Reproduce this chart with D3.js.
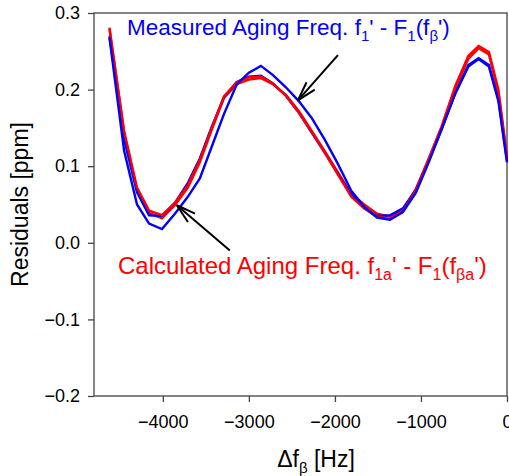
<!DOCTYPE html>
<html>
<head>
<meta charset="utf-8">
<script src="https://cdn.jsdelivr.net/npm/d3@7"></script>
<style>
  body { margin: 0; background: #fff; }
  text { font-family: "Liberation Sans", Arial, sans-serif; }
</style>
</head>
<body>
<div id="vis"></div>
<script>
// Δfβ [Hz] positions, shared by all four curves
const freq = [-4620, -4450, -4300, -4160, -4010, -3860, -3710, -3570, -3430, -3290,
  -3140, -3000, -2860, -2720, -2570, -2420, -2270, -2120, -1970, -1810,
  -1660, -1510, -1360, -1210, -1060, -910, -760, -600, -450, -330, -210, -100, 0];

// calculated aging residuals (red)
const calcA = [0.281, 0.143, 0.069, 0.039, 0.032, 0.049, 0.072, 0.105, 0.148, 0.189,
  0.207, 0.213, 0.215, 0.207, 0.193, 0.172, 0.146, 0.120, 0.093, 0.064,
  0.050, 0.038, 0.034, 0.043, 0.070, 0.110, 0.152, 0.205, 0.244, 0.257, 0.249, 0.200, 0.113];
const calcB = [0.279, 0.146, 0.072, 0.042, 0.036, 0.052, 0.075, 0.108, 0.150, 0.191,
  0.210, 0.216, 0.217, 0.208, 0.192, 0.170, 0.145, 0.118, 0.090, 0.060,
  0.045, 0.034, 0.031, 0.041, 0.068, 0.108, 0.150, 0.202, 0.240, 0.254, 0.246, 0.196, 0.110];

// measured aging residuals (blue)
const measA = [0.270, 0.135, 0.066, 0.036, 0.035, 0.052, 0.078, 0.110, 0.152, 0.190,
  0.210, 0.217, 0.218, 0.208, 0.192, 0.170, 0.144, 0.118, 0.091, 0.063,
  0.045, 0.035, 0.036, 0.045, 0.069, 0.107, 0.148, 0.196, 0.232, 0.241, 0.232, 0.188, 0.107];
const measB = [0.268, 0.120, 0.050, 0.025, 0.018, 0.038, 0.060, 0.084, 0.126, 0.168,
  0.207, 0.222, 0.231, 0.219, 0.203, 0.185, 0.163, 0.135, 0.104, 0.068,
  0.047, 0.033, 0.030, 0.040, 0.065, 0.105, 0.148, 0.195, 0.230, 0.240, 0.230, 0.185, 0.105];

const xTicks = [-4000, -3000, -2000, -1000, 0];
const yTicks = [0.3, 0.2, 0.1, 0.0, -0.1, -0.2];

const svg = d3.select("#vis").append("svg")
  .attr("width", 509)
  .attr("height", 476);

const margin = { top: 13, right: 2, bottom: 80, left: 94 };
const width = 509 - margin.left - margin.right;
const height = 476 - margin.top - margin.bottom;

const g = svg.append("g")
  .attr("transform", `translate(${margin.left},${margin.top})`);

const x = d3.scaleLinear().domain([-4800, 0]).range([0, width]);
const y = d3.scaleLinear().domain([-0.2, 0.3]).range([height, 0]);

const axisColor = "#444";

// frame
g.append("rect")
  .attr("width", width)
  .attr("height", height)
  .attr("fill", "none")
  .attr("stroke", axisColor)
  .attr("stroke-width", 1.3);

// axes
const xAxis = g.append("g")
  .attr("transform", `translate(0,${height})`)
  .call(d3.axisBottom(x).tickValues(xTicks).tickSize(6).tickPadding(13).tickFormat(d3.format("d")));
const yAxis = g.append("g")
  .call(d3.axisLeft(y).tickValues(yTicks).tickSize(6).tickPadding(8).tickFormat(d3.format(".1f")));

[xAxis, yAxis].forEach(a => {
  a.select(".domain").remove();
  a.selectAll("line").attr("stroke", axisColor).attr("stroke-width", 1.3);
  a.selectAll("text")
    .attr("font-size", "18px")
    .attr("fill", "#000")
    .style("font-family", "'Liberation Sans', Arial, sans-serif");
});

// curves
const line = d3.line()
  .x((d, i) => x(freq[i]))
  .y(d => y(d));

const series = [
  { values: calcA, color: "#ff0000" },
  { values: measA, color: "#0000ff" },
  { values: calcB, color: "#ff0000" },
  { values: measB, color: "#0000ff" }
];

g.selectAll(".curve")
  .data(series)
  .join("path")
  .attr("class", "curve")
  .attr("d", d => line(d.values))
  .attr("fill", "none")
  .attr("stroke", d => d.color)
  .attr("stroke-width", 2.4)
  .attr("stroke-linejoin", "miter");

// arrows (in data coordinates)
const arrows = [
  { from: [-1965, 0.245], to: [-2430, 0.186] },
  { from: [-3221, -0.010], to: [-3837, 0.049] }
];

arrows.forEach(a => {
  const x1 = x(a.from[0]), y1 = y(a.from[1]);
  const x2 = x(a.to[0]), y2 = y(a.to[1]);
  g.append("line")
    .attr("x1", x1).attr("y1", y1)
    .attr("x2", x2).attr("y2", y2)
    .attr("stroke", "#000")
    .attr("stroke-width", 2);
  const ang = Math.atan2(y1 - y2, x1 - x2);
  const len = 20, spread = 16 * Math.PI / 180;
  [ang - spread, ang + spread].forEach(t => {
    g.append("line")
      .attr("x1", x2).attr("y1", y2)
      .attr("x2", x2 + len * Math.cos(t))
      .attr("y2", y2 + len * Math.sin(t))
      .attr("stroke", "#000")
      .attr("stroke-width", 2);
  });
});

// annotation labels with subscripts
function label(parts, px, py, color, size, subSize) {
  const t = svg.append("text")
    .attr("x", px)
    .attr("y", py)
    .attr("fill", color)
    .attr("font-size", size + "px");
  let shifted = false;
  parts.forEach(p => {
    const sub = p.startsWith("_");
    const s = t.append("tspan").text(sub ? p.slice(1) : p);
    if (sub && !shifted) { s.attr("dy", 6).attr("font-size", subSize + "px"); shifted = true; }
    else if (!sub && shifted) { s.attr("dy", -6); shifted = false; }
    else if (sub) s.attr("font-size", subSize + "px");
  });
}

label(["Measured Aging Freq. f", "_1", "' - F", "_1", "(f", "_β", "')"], 127, 35, "#0000ff", 22.5, 15);
label(["Calculated Aging Freq. f", "_1a", "' - F", "_1", "(f", "_βa", "')"], 118, 274, "#ff0000", 24, 16);

// axis titles
svg.append("text")
  .attr("transform", `translate(28,${margin.top + height / 2}) rotate(-90)`)
  .attr("text-anchor", "middle")
  .attr("font-size", "23px")
  .text("Residuals [ppm]");

const xt = svg.append("text")
  .attr("x", 316)
  .attr("y", 467)
  .attr("text-anchor", "middle")
  .attr("font-size", "23px");
xt.append("tspan").text("Δf");
xt.append("tspan").attr("dy", 6).attr("font-size", "15px").text("β");
xt.append("tspan").attr("dy", -6).text(" [Hz]");
</script>
</body>
</html>
